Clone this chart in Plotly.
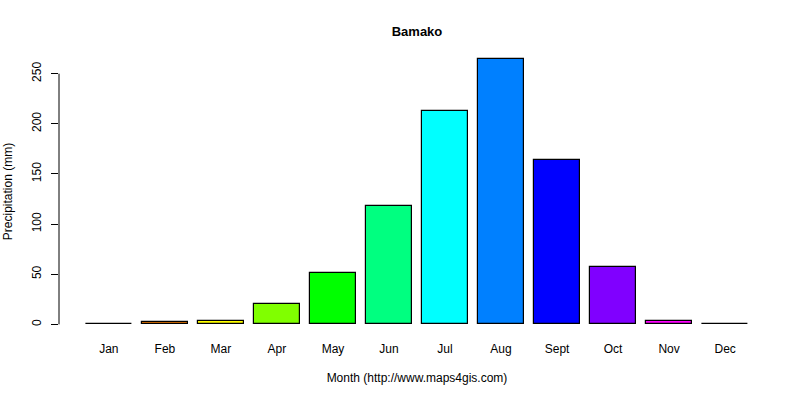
import plotly.graph_objects as go

months = ["Jan", "Feb", "Mar", "Apr", "May", "Jun", "Jul", "Aug", "Sept", "Oct", "Nov", "Dec"]
precip = [0.8, 2.5, 3.5, 20.5, 51, 118, 213, 265, 164, 57, 3.3, 0.3]
colors = ["#FF0000", "#FF8000", "#FFFF00", "#80FF00", "#00FF00", "#00FF80",
          "#00FFFF", "#0080FF", "#0000FF", "#8000FF", "#FF00FF", "#FF0080"]
yticks = [0, 50, 100, 150, 200, 250]

# R barplot geometry: width 1, space 0.2
centers = [0.7 + 1.2 * i for i in range(len(months))]
xmin, xmax = 0.2, 0.2 + 1.2 * len(months) - 0.2
xpad = (xmax - xmin) * 0.04
ymax = max(precip)
ypad = ymax * 0.04

font = "Liberation Sans, Arial, sans-serif"

fig = go.Figure(go.Bar(
    x=centers, y=precip, width=1.0,
    marker=dict(color=colors, line=dict(color="black", width=1.2)),
    hoverinfo="skip",
))

fig.update_layout(
    width=800, height=400,
    margin=dict(l=59, r=25, t=48, b=65, autoexpand=False),
    paper_bgcolor="white", plot_bgcolor="white",
    font=dict(family=font, size=12, color="black"),
    showlegend=False,
    title=dict(text="<b>Bamako</b>", x=0.5, xref="paper", y=1 - 31 / 400,
               yref="container", xanchor="center", yanchor="middle",
               font=dict(size=13, family=font, color="black")),
    xaxis=dict(range=[xmin - xpad, xmax + xpad], tickvals=centers, ticktext=months,
               showline=False, showgrid=False, zeroline=False, ticks="",
               ticklabelstandoff=5, automargin=False,
               title=dict(text="Month (http://www.maps4gis.com)", standoff=18,
                          font=dict(size=12))),
    yaxis=dict(range=[-ypad, ymax + ypad], tickvals=yticks, tickangle=-90,
               showline=False, showgrid=False, zeroline=False,
               ticks="outside", ticklen=7, tickcolor="black", tickwidth=1,
               ticklabelstandoff=5, automargin=False,
               title=dict(text="Precipitation (mm)", standoff=15, font=dict(size=12))),
    bargap=0,
)

fig.add_shape(type="line", xref="paper", yref="y", x0=0, x1=0,
              y0=yticks[0], y1=yticks[-1], line=dict(color="black", width=1))

fig.write_html("out.html", config={"displayModeBar": False},
               post_script="document.body.style.margin='0';")
